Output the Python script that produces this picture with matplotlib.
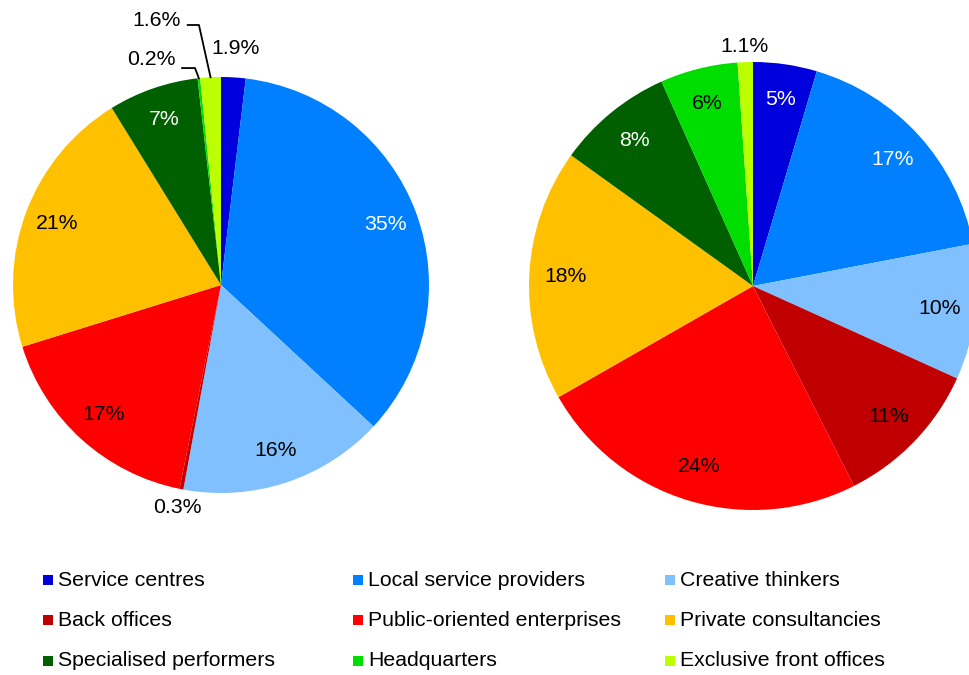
import numpy as np
import matplotlib
matplotlib.use("Agg")
import matplotlib.pyplot as plt
from matplotlib.patches import Rectangle

plt.rcParams['font.family'] = ['Liberation Sans', 'DejaVu Sans']

# ── data ───────────────────────────────────────────────────────────────
categories = ["Service centres", "Local service providers", "Creative thinkers",
              "Back offices", "Public-oriented enterprises", "Private consultancies",
              "Specialised performers", "Headquarters", "Exclusive front offices"]
colors = ["#0000DD", "#0080FF", "#80C0FF",
          "#C00000", "#FF0000", "#FFC000",
          "#006000", "#00DD00", "#BBFF00"]

left_values = [1.9, 35, 16, 0.3, 17, 21, 7, 0.2, 1.6]
right_values = [4.6, 17.4, 9.8, 10.8, 24.2, 18.2, 8.4, 5.6, 1.1]

left_label_colors = ["black", "white", "black", "black", "black", "black", "white", "black", "black"]
right_label_colors = ["white", "white", "black", "black", "black", "black", "white", "black", "black"]


def fmt(v):
    return f"{v:.1f}%" if v < 2 else f"{v:.0f}%"


FS = 15.3
W, H = 970, 675
fig = plt.figure(figsize=(W / 100, H / 100), dpi=100)


def px_axes(cx, cy, r):
    # square axes so that the unit circle has radius r pixels around (cx, cy)
    return fig.add_axes([(cx - r) / W, (H - cy - r) / H, 2 * r / W, 2 * r / H])


def draw_pie(ax, values, label_colors, outside):
    wedges, _ = ax.pie(values, colors=colors, startangle=90, counterclock=False,
                       wedgeprops=dict(linewidth=0), radius=1.0)
    ax.set_xlim(-1, 1)
    ax.set_ylim(-1, 1)
    ax.set_aspect('equal')
    ax.axis('off')
    for i, (w, v) in enumerate(zip(wedges, values)):
        mid = np.deg2rad((w.theta1 + w.theta2) / 2)
        if i in outside:
            d = outside[i]
            if d is None:
                continue
            col = "black"
        else:
            d = 0.84
            col = label_colors[i]
        ax.text(d * np.cos(mid), d * np.sin(mid), fmt(v), ha='center', va='center',
                fontsize=FS, color=col, clip_on=False)
    return wedges


# left pie
axL = px_axes(221, 285, 208)
wL = draw_pie(axL, left_values, left_label_colors, {0: 1.14, 3: 1.09, 7: None, 8: None})

# leader-lined labels for the two thin slices at the top
for idx, txt_xy, elbow in [(8, (-0.31, 1.27), (-0.106, 1.25)),
                           (7, (-0.337, 1.082), (-0.125, 1.043))]:
    w = wL[idx]
    mid = np.deg2rad((w.theta1 + w.theta2) / 2)
    ex, ey = np.cos(mid), np.sin(mid)
    axL.text(txt_xy[0], txt_xy[1], fmt(left_values[idx]), ha='center', va='center',
             fontsize=FS, color='black', clip_on=False)
    axL.plot([txt_xy[0] + 0.15, elbow[0], ex], [elbow[1], elbow[1], ey],
             color='black', lw=1.3, clip_on=False)

# right pie
axR = px_axes(753, 286, 224)
draw_pie(axR, right_values, right_label_colors, {8: 1.07})

# ── legend (3 x 3, row-major) ──────────────────────────────────────────
col_x = [43, 353, 665]
row_y = [580, 620, 661]
for i, (name, c) in enumerate(zip(categories, colors)):
    r, k = divmod(i, 3)
    x, y = col_x[k], row_y[r]
    fig.patches.append(Rectangle((x / W, (H - y - 5) / H), 10 / W, 10 / H,
                                 transform=fig.transFigure, facecolor=c,
                                 edgecolor='none'))
    fig.text((x + 15) / W, (H - y) / H, name, ha='left', va='center',
             fontsize=FS, color='black')

fig.savefig("out.png", dpi=100)
